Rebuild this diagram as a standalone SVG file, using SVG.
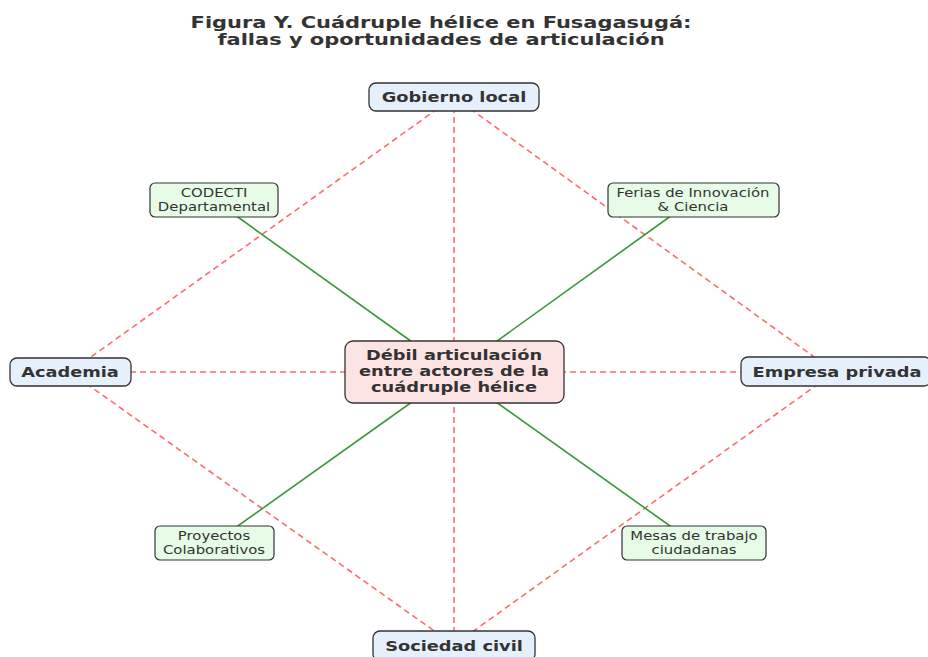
<svg xmlns="http://www.w3.org/2000/svg" width="928" height="657" viewBox="0 0 928 657">
<style>
.bg{fill:#ffffff}
.title{font-family:"DejaVu Sans",sans-serif;font-weight:bold;font-size:16px;fill:#333333;text-anchor:middle}
.actor rect{fill:#e6f0fc;stroke:#333333;stroke-width:1.3}
.opp rect{fill:#e6fce6;stroke:#333333;stroke-width:1.2}
.core rect{fill:#fde4e4;stroke:#333333;stroke-width:1.3}
.bt{font-family:"DejaVu Sans",sans-serif;font-weight:bold;font-size:14px;fill:#333333;text-anchor:middle}
.st{font-family:"DejaVu Sans",sans-serif;font-size:12px;fill:#333333;text-anchor:middle}
.fail{stroke:#ff6b6b;stroke-width:1.6;stroke-dasharray:6,4;fill:none}
.op{stroke:#3a963a;stroke-width:1.6;fill:none}
</style>
<rect class="bg" x="0" y="0" width="928" height="657"/>
<g id="title">
<text class="title" transform="translate(441,28) scale(1.31,1)">Figura Y. Cuádruple hélice en Fusagasugá:</text>
<text class="title" transform="translate(441,45) scale(1.31,1)">fallas y oportunidades de articulación</text>
</g>
<g id="connectors">
<line class="fail" x1="454" y1="97" x2="70" y2="372"/>
<line class="fail" x1="454" y1="97" x2="835" y2="372"/>
<line class="fail" x1="454" y1="97" x2="454" y2="645"/>
<line class="fail" x1="70" y1="372" x2="835" y2="372"/>
<line class="fail" x1="70" y1="372" x2="454" y2="645"/>
<line class="fail" x1="835" y1="372" x2="454" y2="645"/>
<line class="op" x1="454" y1="372" x2="214" y2="200"/>
<line class="op" x1="454" y1="372" x2="693" y2="200"/>
<line class="op" x1="454" y1="372" x2="214" y2="543"/>
<line class="op" x1="454" y1="372" x2="694" y2="543"/>
</g>
<g id="gobierno" class="actor">
<rect x="369" y="83" width="170" height="28" rx="7"/>
<text class="bt" transform="translate(454,102) scale(1.27,1)">Gobierno local</text>
</g>
<g id="academia" class="actor">
<rect x="10" y="358" width="121" height="28" rx="7"/>
<text class="bt" transform="translate(70,377) scale(1.27,1)">Academia</text>
</g>
<g id="empresa" class="actor">
<rect x="741" y="357" width="190" height="29" rx="7"/>
<text class="bt" transform="translate(837,377) scale(1.27,1)">Empresa privada</text>
</g>
<g id="sociedad" class="actor">
<rect x="373" y="631" width="162" height="30" rx="7"/>
<text class="bt" transform="translate(454,651) scale(1.27,1)">Sociedad civil</text>
</g>
<g id="centro" class="core">
<rect x="345" y="341" width="219" height="62" rx="8"/>
<text class="bt" transform="translate(454,360) scale(1.27,1)">Débil articulación</text>
<text class="bt" transform="translate(454,376) scale(1.27,1)">entre actores de la</text>
<text class="bt" transform="translate(454,392) scale(1.27,1)">cuádruple hélice</text>
</g>
<g id="codecti" class="opp">
<rect x="150" y="183" width="128" height="34" rx="5"/>
<text class="st" transform="translate(214,197) scale(1.24,1)">CODECTI</text>
<text class="st" transform="translate(214,211) scale(1.24,1)">Departamental</text>
</g>
<g id="ferias" class="opp">
<rect x="608" y="183" width="171" height="34" rx="5"/>
<text class="st" transform="translate(693,197) scale(1.24,1)">Ferias de Innovación</text>
<text class="st" transform="translate(693,211) scale(1.24,1)">&amp; Ciencia</text>
</g>
<g id="proyectos" class="opp">
<rect x="155" y="526" width="119" height="34" rx="5"/>
<text class="st" transform="translate(214,540) scale(1.24,1)">Proyectos</text>
<text class="st" transform="translate(214,554) scale(1.24,1)">Colaborativos</text>
</g>
<g id="mesas" class="opp">
<rect x="622" y="526" width="144" height="34" rx="5"/>
<text class="st" transform="translate(694,540) scale(1.24,1)">Mesas de trabajo</text>
<text class="st" transform="translate(694,554) scale(1.24,1)">ciudadanas</text>
</g>
</svg>
